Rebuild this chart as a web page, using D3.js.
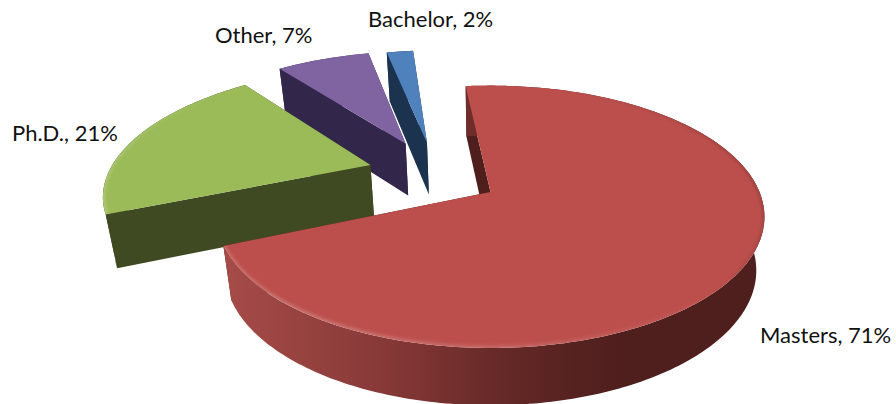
<!DOCTYPE html>
<html><head><meta charset="utf-8">
<script src="https://cdn.jsdelivr.net/npm/d3@7"></script>
<style>html,body{margin:0;padding:0;background:#fff;overflow:hidden}svg{display:block}text{font-family:Lato,"Open Sans",sans-serif;font-size:22px;fill:#111}</style>
</head><body><div id="chart"></div>
<script>
const categories = ["Masters", "Ph.D.", "Other", "Bachelor"];
const values = [71, 21, 7, 2];
const topColors = ["#bc4f4c", "#9bbb59", "#8064a2", "#4f81bd"];
const sideColors = ["#4f1f1d", "#3f4922", "#32274a", "#1c3350"];

// layout, kept apart from the data
const W = 896, H = 404;
const explode = [[0, 0], [-0.465, 0.222], [-0.34, 0.41], [-0.255, 0.42]];
const labelPos = [[760, 343], [12, 141], [215, 43], [368, 27]];
const startDeg = -6.3, persp = 0.189;
const cam = {
  top: {x0: 490.5, y0: 192, a: 269, b: 126.5},
  bottom: {x0: 490.5, y0: 245, a: 261, b: 130}
};
const proj = (X, Y, c) => {
  const d = 1 + persp * Y;
  return [c.x0 + c.a * X / d, c.y0 - c.b * Y / d];
};

const svg = d3.select("#chart").append("svg").attr("width", W).attr("height", H);
const defs = svg.append("defs");
defs.append("filter").attr("id", "soft").attr("x", "-10%").attr("y", "-10%").attr("width", "120%").attr("height", "120%")
  .append("feGaussianBlur").attr("stdDeviation", 1.8);

const grad = defs.append("linearGradient").attr("id", "mastersSide")
  .attr("gradientUnits", "userSpaceOnUse").attr("x1", 228).attr("x2", 620).attr("y1", 0).attr("y2", 0);
[[0, "#a54b48"], [0.42, "#853836"], [0.68, "#672a28"], [0.85, "#582321"], [1, "#4f1f1d"]]
  .forEach(s => grad.append("stop").attr("offset", s[0]).attr("stop-color", s[1]));

const pie = d3.pie().sort(null).startAngle(startDeg * Math.PI / 180).endAngle((startDeg + 360) * Math.PI / 180);
const arcs = pie(values);
const line = d3.line();
const STEP = Math.PI / 180;

const rimAngles = (a0, a1) => {
  const n = Math.max(2, Math.ceil((a1 - a0) / STEP));
  return d3.range(n + 1).map(i => a0 + (a1 - a0) * i / n);
};
const pt = (i, t, r, c) => proj(explode[i][0] + r * Math.sin(t), explode[i][1] + r * Math.cos(t), c);

const order = [3, 2, 1, 0];
order.forEach(i => {
  const s = arcs[i], g = svg.append("g");
  const angs = rimAngles(s.startAngle, s.endAngle);
  const rimTop = angs.map(t => pt(i, t, 1, cam.top));
  const rimBot = angs.map(t => pt(i, t, 1, cam.bottom));
  const apexTop = pt(i, 0, 0, cam.top), apexBot = pt(i, 0, 0, cam.bottom);

  // radial walls
  [[0, rimTop[0], rimBot[0]], [1, rimTop[rimTop.length - 1], rimBot[rimBot.length - 1]]].forEach(w => {
    g.append("path").attr("d", line([apexTop, w[1], w[2], apexBot]) + "Z").attr("fill", sideColors[i]);
  });
  // outer wall
  g.append("path").attr("d", line(rimTop.concat(rimBot.slice().reverse())) + "Z")
    .attr("fill", i === 0 ? "url(#mastersSide)" : sideColors[i]);

  // top face
  const face = [apexTop].concat(rimTop);
  g.append("path").attr("d", line(face) + "Z").attr("fill", topColors[i]);

  // soft bevel along the rim
  const clipId = "clip" + i;
  defs.append("clipPath").attr("id", clipId).append("path").attr("d", line(face) + "Z");
  const bevel = g.append("g").attr("clip-path", `url(#${clipId})`).append("g").attr("filter", "url(#soft)");
  angs.slice(1).forEach((t, k) => {
    const nx = Math.sin(t), ny = Math.cos(t);
    const lit = -(0.7 * nx + 0.7 * ny);
    const col = lit > 0 ? "#fff" : "#000";
    const op = lit > 0 ? lit * 0.2 : -lit * 0.42 * (1 - ny) / 2;
    bevel.append("path").attr("d", line([rimTop[k], rimTop[k + 1]]))
      .attr("fill", "none").attr("stroke", col).attr("stroke-opacity", op)
      .attr("stroke-width", 5);
  });
});

svg.selectAll("text.lab").data(categories).join("text").attr("class", "lab")
  .attr("x", (d, i) => labelPos[i][0]).attr("y", (d, i) => labelPos[i][1])
  .text((d, i) => `${d}, ${values[i]}%`);
</script></body></html>
